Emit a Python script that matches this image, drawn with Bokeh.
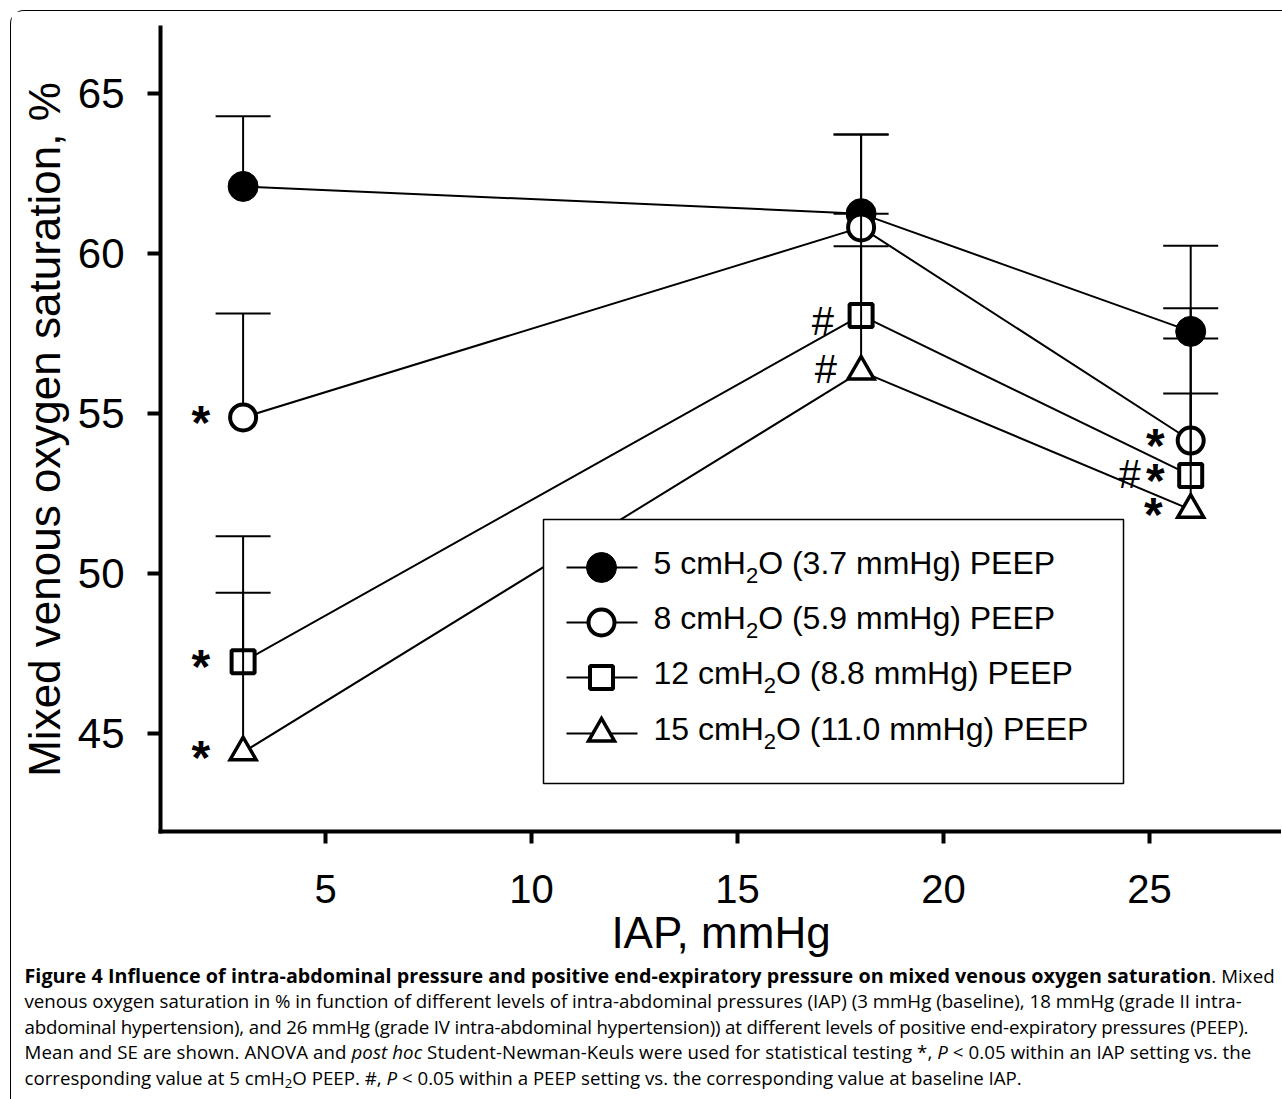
from bokeh.plotting import figure
from bokeh.models import Range1d, FixedTicker, Div
from bokeh.layouts import column
from bokeh.embed import file_html
from bokeh.resources import INLINE
from bokeh.core.properties import value

# ---------------- data ----------------
iap_mmhg = [3, 18, 26]
peep_cmh2o = ["5", "8", "12", "15"]
peep_mmhg = ["3.7", "5.9", "8.8", "11.0"]

svo2_peep5 = [62.08, 61.23, 57.55]
svo2_peep8 = [54.86, 60.80, 54.14]
svo2_peep12 = [47.23, 58.05, 53.05]
svo2_peep15 = [44.40, 56.30, 51.98]

se_top_peep5 = [64.27, 63.70, 60.23]
se_top_peep8 = [58.11, 63.70, 58.27]
se_top_peep12 = [51.15, 60.21, 57.33]
se_top_peep15 = [49.38, 61.23, 55.61]

x_ticks = [5, 10, 15, 20, 25]
y_ticks = [45, 50, 55, 60, 65]

# significance marks: (IAP, value)
star_iap = [3, 3, 3, 26, 26, 26]
star_val = [svo2_peep8[0], svo2_peep12[0], svo2_peep15[0],
            svo2_peep8[2], svo2_peep12[2], svo2_peep15[2]]
hash_iap = [18, 18, 26]
hash_val = [svo2_peep12[1], svo2_peep15[1], svo2_peep12[2]]

means = [svo2_peep5, svo2_peep8, svo2_peep12, svo2_peep15]
tops = [se_top_peep5, se_top_peep8, se_top_peep12, se_top_peep15]

# ---------------- layout / style ----------------
FIG_W, FIG_H = 1270, 951
# frame in page-pixel coordinates
FL, FR, FT, FB = 160.0, 1281.0, 27.0, 831.0
X_LO, X_HI = (FL - 119.0) / 41.2, (FR - 119.0) / 41.2
Y_LO, Y_HI = 65 - (FB - 92.5) / 32.0, 65 + (92.5 - FT) / 32.0


def dx(px):
    return X_LO + (px - FL) / (FR - FL) * (X_HI - X_LO)


def dy(py):
    return Y_HI - (py - FT) / (FB - FT) * (Y_HI - Y_LO)


marker_styles = [
    dict(marker="circle", size=30, fill_color="black", line_color="black", line_width=1),
    dict(marker="circle", size=26, fill_color="white", line_color="black", line_width=4),
    dict(marker="square", size=23, fill_color="white", line_color="black", line_width=4),
    dict(marker="triangle", size=26, fill_color="white", line_color="black", line_width=3.5,
         line_join="miter"),
]

FONT = value("Liberation Sans")

p = figure(width=FIG_W, height=FIG_H,
           x_range=Range1d(X_LO, X_HI), y_range=Range1d(Y_LO, Y_HI),
           output_backend="svg", toolbar_location=None,
           min_border_left=149, min_border_right=0,
           min_border_top=16, min_border_bottom=131)
p.outline_line_color = None
p.xgrid.visible = False
p.ygrid.visible = False
p.background_fill_color = "white"
p.border_fill_color = "white"

for ax in (p.xaxis, p.yaxis):
    ax.axis_line_width = 4
    ax.axis_line_color = "black"
    ax.axis_line_cap = "square"
    ax.major_tick_line_width = 4
    ax.major_tick_line_color = "black"
    ax.major_tick_in = 0
    ax.minor_tick_line_color = None
    ax.major_label_text_color = "black"
    ax.major_label_text_font = "Liberation Sans"
    ax.axis_label_text_color = "black"
    ax.axis_label_text_font = "Liberation Sans"
    ax.axis_label_text_font_style = "normal"
    ax.axis_label_text_font_size = "44px"

p.xaxis.ticker = FixedTicker(ticks=x_ticks)
p.yaxis.ticker = FixedTicker(ticks=y_ticks)
p.xaxis.major_tick_out = 12
p.yaxis.major_tick_out = 13
p.xaxis.major_label_text_font_size = "40px"
p.yaxis.major_label_text_font_size = "42px"
p.xaxis.major_label_standoff = 31
p.yaxis.major_label_standoff = 23
p.xaxis.axis_label = "IAP, mmHg"
p.yaxis.axis_label = "Mixed venous oxygen saturation, %"
p.xaxis.axis_label_standoff = 2
p.yaxis.axis_label_standoff = 6

# ---------------- series ----------------
for m, t, st in zip(means, tops, marker_styles):
    p.line(iap_mmhg, m, line_color="black", line_width=2)
    p.segment(x0=iap_mmhg, y0=m, x1=iap_mmhg, y1=t, line_color="black", line_width=2)
    p.scatter(iap_mmhg, t, marker="dash", size=55, line_color="black", line_width=2)
    p.scatter(iap_mmhg, m, **st)

# significance marks
star_dx = [-33, -33, -33, -26, -26, -28]
hash_dx = [-27, -24, -50]
p.text(x=star_iap, y=star_val, text=["*"] * len(star_iap),
       x_offset=star_dx, y_offset=5,
       text_font=FONT, text_font_style="bold", text_font_size=value("48px"),
       text_align="right", text_baseline="alphabetic", text_color="black")
p.text(x=hash_iap, y=hash_val, text=["#"] * len(hash_iap),
       x_offset=hash_dx, y_offset=[6, -2, -1],
       text_font=FONT, text_font_size=value("40px"),
       text_align="right", text_baseline="alphabetic", text_color="black")

# ---------------- legend (drawn by hand to get the H2O subscript) ----------------
LEG_L, LEG_R, LEG_T, LEG_B = 543, 1123, 519, 783
p.quad(left=[dx(LEG_L)], right=[dx(LEG_R)], top=[dy(LEG_T)], bottom=[dy(LEG_B)],
       fill_color="white", line_color="black", line_width=1.5)

row_py = [567, 622, 677, 733]
LINE_A, LINE_B, MARK_X, TEXT_X = 566, 637, 601, 653
LEG_FS, SUB_FS = 32, 22
ADV = {" ": .278, "c": .5, "m": .833, "H": .722}
ADV.update({d: .556 for d in "0123456789"})


def text_w(s, size):
    return sum(ADV[c] for c in s) * size


prefix = [f"{c} cmH" for c in peep_cmh2o]
suffix = [f"O ({mm} mmHg) PEEP" for mm in peep_mmhg]

for py, st in zip(row_py, marker_styles):
    p.line([dx(LINE_A), dx(LINE_B)], [dy(py), dy(py)], line_color="black", line_width=2)
    p.scatter([dx(MARK_X)], [dy(py)], **st)

sub_px = [TEXT_X + text_w(s, LEG_FS) for s in prefix]
suf_px = [x + text_w("2", SUB_FS) for x in sub_px]
p.text(x=[dx(TEXT_X)] * 4, y=[dy(py - 5) for py in row_py], text=prefix,
       text_font=FONT, text_font_size=value(f"{LEG_FS}px"),
       text_baseline="alphabetic", text_align="left", text_color="black")
p.text(x=[dx(x) for x in sub_px], y=[dy(py + 8) for py in row_py], text=["2"] * 4,
       text_font=FONT, text_font_size=value(f"{SUB_FS}px"),
       text_baseline="alphabetic", text_align="left", text_color="black")
p.text(x=[dx(x) for x in suf_px], y=[dy(py - 5) for py in row_py], text=suffix,
       text_font=FONT, text_font_size=value(f"{LEG_FS}px"),
       text_baseline="alphabetic", text_align="left", text_color="black")

# ---------------- caption ----------------
caption_html = (
    '<div style="font-family:\'Open Sans\';font-size:18.7px;line-height:25.5px;color:#000;'
    'white-space:nowrap;padding-left:9px;margin-top:-4px;">'
    '<span style="letter-spacing:0.05px"><b style="font-size:19.7px">Figure 4 Influence of '
    'intra-abdominal pressure and positive end-expiratory pressure on mixed venous oxygen '
    'saturation</b>. Mixed</span><br>'
    'venous oxygen saturation in % in function of different levels of intra-abdominal pressures '
    '(IAP) (3 mmHg (baseline), 18 mmHg (grade II intra-<br>'
    '<span style="letter-spacing:-0.17px">abdominal hypertension), and 26 mmHg (grade IV '
    'intra-abdominal hypertension)) at different levels of positive end-expiratory pressures '
    '(PEEP).</span><br>'
    '<span style="letter-spacing:0.07px">Mean and SE are shown. ANOVA and <i>post hoc</i> '
    'Student-Newman-Keuls were used for statistical testing *, <i>P</i> &lt; 0.05 within an '
    'IAP setting vs. the</span><br>'
    'corresponding value at 5 cmH<sub style="font-size:0.7em;line-height:0;vertical-align:-0.2em">2</sub>O PEEP. '
    '#, <i>P</i> &lt; 0.05 within a PEEP setting vs. the corresponding value at baseline IAP.'
    '</div>'
)
cap = Div(text=caption_html, width=FIG_W, height=132)

layout = column(p, cap, styles={
    "border-left": "1.5px solid #000",
    "border-top": "1.5px solid #000",
    "border-top-left-radius": "14px",
    "margin-left": "9.5px",
    "margin-top": "9.5px",
    "background-color": "white",
})

open("out.html", "w").write(file_html(layout, INLINE))
